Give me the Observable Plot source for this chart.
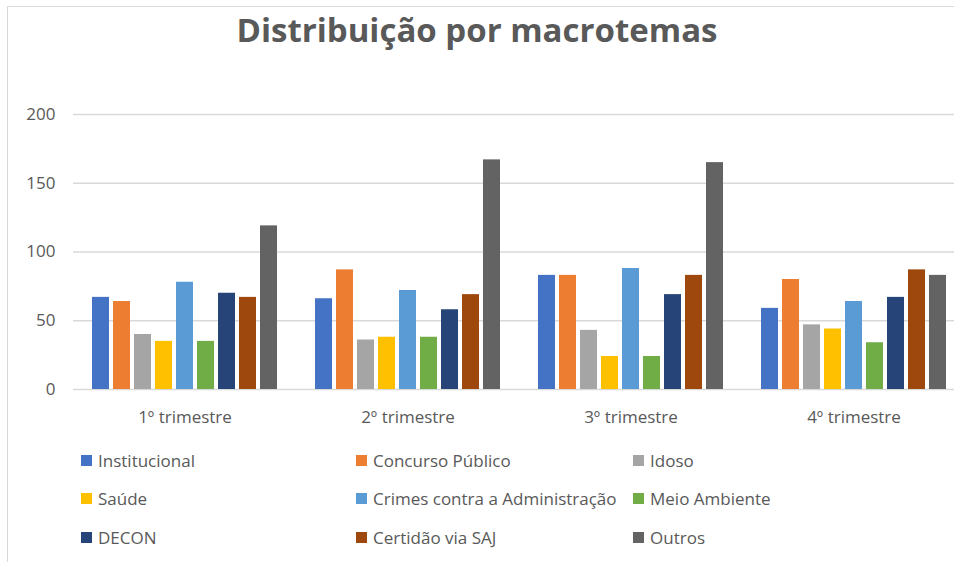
<!DOCTYPE html>
<html>
<head>
<meta charset="utf-8">
<script src="https://cdn.jsdelivr.net/npm/d3@7"></script>
<script src="https://cdn.jsdelivr.net/npm/@observablehq/plot@0.6"></script>
<style>
  html, body { margin: 0; padding: 0; background: #fff; }
  body { width: 954px; height: 562px; position: relative; overflow: hidden; font-family: "Open Sans", sans-serif; color: #595959; }
  #frame { position: absolute; left: 7px; top: 6px; width: 1000px; height: 600px; border-top: 1.5px solid #d9d9d9; border-left: 1.5px solid #d9d9d9; }
  #title { position: absolute; left: 0; top: 8px; width: 954px; text-align: center; font-size: 33px; line-height: 44px; font-weight: 700; color: #595959; }
  #plot { position: absolute; left: 0; top: 80px; }
  .item { position: absolute; height: 38px; display: flex; align-items: center; font-size: 17px; white-space: nowrap; }
  .sw { width: 11px; height: 11px; margin-right: 6px; flex: none; }
</style>
</head>
<body>
<div id="frame"></div>
<div id="title">Distribuição por macrotemas</div>
<div id="plot"></div>
<div id="legend"></div>
<script>
const quarters = ["1º trimestre", "2º trimestre", "3º trimestre", "4º trimestre"];
const themes = ["Institucional", "Concurso Público", "Idoso", "Saúde", "Crimes contra a Administração", "Meio Ambiente", "DECON", "Certidão via SAJ", "Outros"];
const colors = ["#4472C4", "#ED7D31", "#A5A5A5", "#FFC000", "#5B9BD5", "#70AD47", "#264478", "#9E480E", "#636363"];

const institucional = [67, 66, 83, 59];
const concursoPublico = [64, 87, 83, 80];
const idoso = [40, 36, 43, 47];
const saude = [35, 38, 24, 44];
const crimesAdministracao = [78, 72, 88, 64];
const meioAmbiente = [35, 38, 24, 34];
const decon = [70, 58, 69, 67];
const certidaoSAJ = [67, 69, 83, 87];
const outros = [119, 167, 165, 83];

const yTicks = [0, 50, 100, 150, 200];

const series = [institucional, concursoPublico, idoso, saude, crimesAdministracao, meioAmbiente, decon, certidaoSAJ, outros];
const data = quarters.flatMap((q, qi) => themes.map((t, ti) => ({quarter: q, theme: t, value: series[ti][qi]})));

const chart = Plot.plot({
  width: 954,
  height: 360,
  marginTop: 34,
  marginBottom: 51,
  marginLeft: 72,
  marginRight: 0,
  style: {fontFamily: "'Open Sans', sans-serif", fontSize: "17px", color: "#595959", background: "transparent", overflow: "visible"},
  fx: {domain: quarters, range: [72, 966.4], padding: 0, label: null, axis: "bottom", tickSize: 0, tickPadding: 21},
  x: {domain: themes, paddingInner: 0.21, paddingOuter: 0.855, axis: null},
  y: {domain: [0, 200], ticks: yTicks, tickSize: 0, tickPadding: 18, label: null},
  color: {domain: themes, range: colors},
  marks: [
    Plot.ruleY(yTicks, {stroke: "#d9d9d9", strokeWidth: 1.5}),
    Plot.barY(data, {fx: "quarter", x: "theme", y: "value", fill: "theme"})
  ]
});
document.getElementById("plot").appendChild(chart);

const colX = [81, 356, 633];
const rowY = [460, 498.5, 537];
const legend = document.getElementById("legend");
themes.forEach((t, i) => {
  const d = document.createElement("div");
  d.className = "item";
  d.style.left = colX[i % 3] + "px";
  d.style.top = (rowY[Math.floor(i / 3)] - 19) + "px";
  const s = document.createElement("span");
  s.className = "sw";
  s.style.background = colors[i];
  d.appendChild(s);
  d.appendChild(document.createTextNode(t));
  legend.appendChild(d);
});
</script>
</body>
</html>
